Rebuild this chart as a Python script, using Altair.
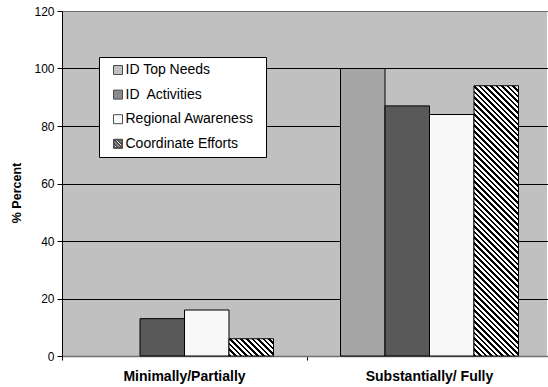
import math
import altair as alt
import pandas as pd

# ---- data ----
categories = ["Minimally/Partially", "Substantially/ Fully"]
series = ["ID Top Needs", "ID\u00a0 Activities", "Regional Awareness", "Coordinate Efforts"]
values_minimally = [0, 13, 16, 6]
values_substantially = [100, 87, 84, 94]
y_ticks = [0, 20, 40, 60, 80, 100, 120]

colors = ["#a6a6a6", "#595959", "#f8f8f8", "#000000"]

rows = []
for s, v in zip(series, values_minimally):
    rows.append({"Category": categories[0], "Series": s, "Value": v})
for s, v in zip(series, values_substantially):
    rows.append({"Category": categories[1], "Series": s, "Value": v})
df = pd.DataFrame(rows)

# ---- layout constants ----
W, H = 485, 345
BAND = 245
PX_PER_UNIT = H / 120.0
XOFF_PAD = 0.753
BAR_W = BAND / (4 + 2 * XOFF_PAD)


def hatch(w, h, period=5.6, black=0.45):
    """Diagonal '\\' stripes as a sharp-stop linear gradient in bbox units."""
    k = (w + h) / (w * w + h * h)
    n = (w + h) / period
    stops = []
    j = 0
    while j / n < 1:
        a = j / n
        b = min((j + black) / n, 1.0)
        c = min((j + 1) / n, 1.0)
        stops += [
            {"offset": round(a, 5), "color": "black"},
            {"offset": round(b, 5), "color": "black"},
            {"offset": round(b, 5), "color": "white"},
            {"offset": round(c, 5), "color": "white"},
        ]
        j += 1
    return {"gradient": "linear", "x1": 0, "y1": 1,
            "x2": round(k * w, 5), "y2": round(1 - k * h, 5), "stops": stops}


def clip(poly, fn):
    """Sutherland-Hodgman clip of polygon against half-plane fn(p) >= 0."""
    out = []
    for i in range(len(poly)):
        p, q = poly[i], poly[(i + 1) % len(poly)]
        fp, fq = fn(p), fn(q)
        if fp >= 0:
            out.append(p)
        if (fp >= 0) != (fq >= 0):
            t = fp / (fp - fq)
            out.append((p[0] + t * (q[0] - p[0]), p[1] + t * (q[1] - p[1])))
    return out


def hatch_symbol_path(inner=0.86, period=0.78, black=0.46):
    """Custom legend symbol: thin square frame plus '\\' black stripes."""
    def sq(a, cw=True):
        pts = [(-a, -a), (a, -a), (a, a), (-a, a)]
        return pts if cw else pts[::-1]

    def to_path(pts):
        return "M" + "L".join(f"{x:.3f},{y:.3f}" for x, y in pts) + "Z"

    parts = [to_path(sq(1.0, True)), to_path(sq(inner, False))]
    c = -2 * inner
    while c < 2 * inner:
        lo, hi = c, c + black * period
        poly = sq(inner)
        poly = clip(poly, lambda p, lo=lo: (p[0] - p[1]) - lo)
        poly = clip(poly, lambda p, hi=hi: hi - (p[0] - p[1]))
        if len(poly) >= 3:
            parts.append(to_path(poly))
        c += period
    return " ".join(parts)


grad_min = hatch(BAR_W, values_minimally[3] * PX_PER_UNIT)
grad_sub = hatch(BAR_W, values_substantially[3] * PX_PER_UNIT)
shapes = ["square", "square", "square", hatch_symbol_path()]

FONT = "Liberation Sans"


def make_legend():
    return alt.Legend(
        title="\u00a0",
        titleOrient="right",
        titlePadding=6,
        titleFontSize=14,
        orient="none",
        legendX=37,
        legendY=46,
        fillColor="white",
        strokeColor="black",
        padding=6,
        rowPadding=10.6,
        symbolOffset=6,
        labelOffset=0.5,
        symbolType="square",
        symbolSize=81,
        symbolStrokeColor="black",
        symbolStrokeWidth=1,
        labelFont=FONT,
        labelFontSize=14,
        labelColor="black",
    )


x_enc = alt.X(
    "Category:N",
    sort=categories,
    scale=alt.Scale(domain=categories, range=[0, 2 * BAND], paddingInner=0, paddingOuter=0),
    axis=alt.Axis(
        title=None,
        labelAngle=0,
        labelFont=FONT,
        labelFontSize=14,
        labelFontWeight="bold",
        labelColor="black",
        labelPadding=9,
        bandPosition=0,
        tickSize=4,
        tickColor="black",
        domainColor="#707070",
        domainWidth=1.5,
        grid=False,
    ),
)

y_enc = alt.Y(
    "Value:Q",
    scale=alt.Scale(domain=[0, 120], nice=False),
    axis=alt.Axis(
        title="% Percent",
        titleFont=FONT,
        titleFontSize=12.5,
        titleFontWeight="bold",
        titleColor="black",
        titlePadding=10,
        titleY=181.5,
        values=y_ticks,
        labelFont=FONT,
        labelFontSize=12,
        labelColor="black",
        labelPadding=3,
        tickSize=5,
        tickColor="black",
        domainColor="black",
        grid=True,
        gridColor={
            "condition": {"test": "datum.value === 120 || datum.value === 0", "value": "#707070"},
            "value": "black",
        },
        gridWidth=1,
    ),
)

fill_scale = alt.Scale(domain=series, range=colors)

bars = (
    alt.Chart(df)
    .transform_filter("datum.Value > 0")
    .mark_bar(stroke="black", strokeWidth=1)
    .encode(
        x=x_enc,
        xOffset=alt.XOffset(
            "Series:N",
            sort=series,
            scale=alt.Scale(domain=series, paddingInner=0, paddingOuter=XOFF_PAD),
        ),
        y=y_enc,
        fill=alt.Fill(
            "Series:N",
            sort=series,
            scale=fill_scale,
            legend=make_legend(),
            condition=[
                {"test": "datum.Series === 'Coordinate Efforts' && datum.Category === 'Minimally/Partially'",
                 "value": grad_min},
                {"test": "datum.Series === 'Coordinate Efforts' && datum.Category === 'Substantially/ Fully'",
                 "value": grad_sub},
            ],
        ),
    )
)

# legend-only layer: supplies the hatched legend symbol through the shape scale
legend_layer = (
    alt.Chart(df)
    .transform_filter("false")
    .mark_point(filled=True, stroke="black", strokeWidth=1)
    .encode(
        x=alt.X("Category:N", sort=categories),
        y=alt.Y("Value:Q"),
        fill=alt.Fill("Series:N", sort=series, scale=fill_scale, legend=make_legend()),
        shape=alt.Shape("Series:N", sort=series,
                        scale=alt.Scale(domain=series, range=shapes), legend=make_legend()),
    )
)

chart = (
    alt.layer(bars, legend_layer)
    .properties(
        width=W,
        height=H,
        autosize=alt.AutoSizeParams(type="none"),
        padding={"left": 62, "top": 11, "right": 1, "bottom": 31},
        background="white",
    )
    .configure_view(fill="#c0c0c0", stroke=None)
)

chart.save("out.html", embed_options={"renderer": "svg", "actions": False})
